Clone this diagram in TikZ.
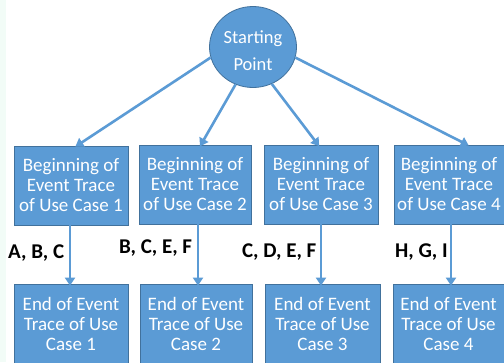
\documentclass[tikz,border=0pt]{standalone}
\usepackage{fontspec}
\setmainfont{Carlito}
\usetikzlibrary{shapes.geometric,arrows.meta}
\definecolor{boxblue}{HTML}{5B9BD5}
\definecolor{edgeblue}{HTML}{41719C}
\definecolor{mint}{HTML}{F2FCF7}
\tikzset{
  tbox/.style={draw=edgeblue, line width=0.8pt, fill=boxblue, text=white, align=center,
    font=\fontsize{19}{20}\selectfont, inner sep=0pt},
  arr/.style={draw=boxblue, line width=2.6pt, -{Triangle[length=8pt,width=10pt]}, shorten >=-2pt},
  lab/.style={font=\bfseries\fontsize{21}{22}\selectfont, anchor=west, inner sep=0pt}
}
\begin{document}
\begin{tikzpicture}[x=1pt,y=-1pt]
\useasboundingbox (0,0) rectangle (504,362);
\clip (0,0) rectangle (504,362);
\fill[white] (0,0) rectangle (504,362);
\fill[mint] (0,0) rectangle (6,362);
% start
\node[ellipse, draw=edgeblue, line width=0.8pt, fill=boxblue,
  minimum width=87pt, minimum height=81pt, inner sep=0pt] (s) at (253,47) {};
\node[text=white, align=center, inner sep=0pt,
  font=\fontsize{18.5}{27}\selectfont] (st) at (253,50.5) {Starting\\Point};
% top boxes
\node[tbox, minimum width=114pt, minimum height=79pt] (b1) at (71,185.5) {Beginning of\\Event Trace\\of Use Case 1};
\node[tbox, minimum width=112pt, minimum height=79pt] (b2) at (195,184.5) {Beginning of\\Event Trace\\of Use Case 2};
\node[tbox, minimum width=114pt, minimum height=79pt] (b3) at (321,184.5) {Beginning of\\Event Trace\\of Use Case 3};
\node[tbox, minimum width=110pt, minimum height=79pt] (b4) at (449,184.5) {Beginning of\\Event Trace\\of Use Case 4};
% bottom boxes (clipped at bottom)
\node[tbox, minimum width=114pt, minimum height=80pt] (e1) at (71,324) {End of Event\\Trace of Use\\Case 1};
\node[tbox, minimum width=112pt, minimum height=80pt] (e2) at (196,324) {End of Event\\Trace of Use\\Case 2};
\node[tbox, minimum width=115pt, minimum height=80pt] (e3) at (322.5,324) {End of Event\\Trace of Use\\Case 3};
\node[tbox, minimum width=111pt, minimum height=80pt] (e4) at (448.5,324) {End of Event\\Trace of Use\\Case 4};
% arrows from start
\draw[arr] (s.194) -- (b1.north -| 77,0);
\draw[arr] (s.245) -- (b2.north -| 201,0);
\draw[arr] (s.297) -- (b3.north -| 318,0);
\draw[arr] (s.346) -- (b4.north -| 467,0);
% vertical arrows
\draw[arr] (b1.south -| 70,0) -- (e1.north -| 70,0);
\draw[arr] (b2.south -| 198,0) -- (e2.north -| 198,0);
\draw[arr] (b3.south -| 321,0) -- (e3.north -| 321,0);
\draw[arr] (b4.south -| 451,0) -- (e4.north -| 451,0);
% labels
\node[lab] (l1) at (8,253) {A, B, C};
\node[lab] (l2) at (119,248) {B, C, E, F};
\node[lab] (l3) at (242,252) {C, D, E, F};
\node[lab] (l4) at (395,252) {H, G, I};
\end{tikzpicture}
\end{document}
